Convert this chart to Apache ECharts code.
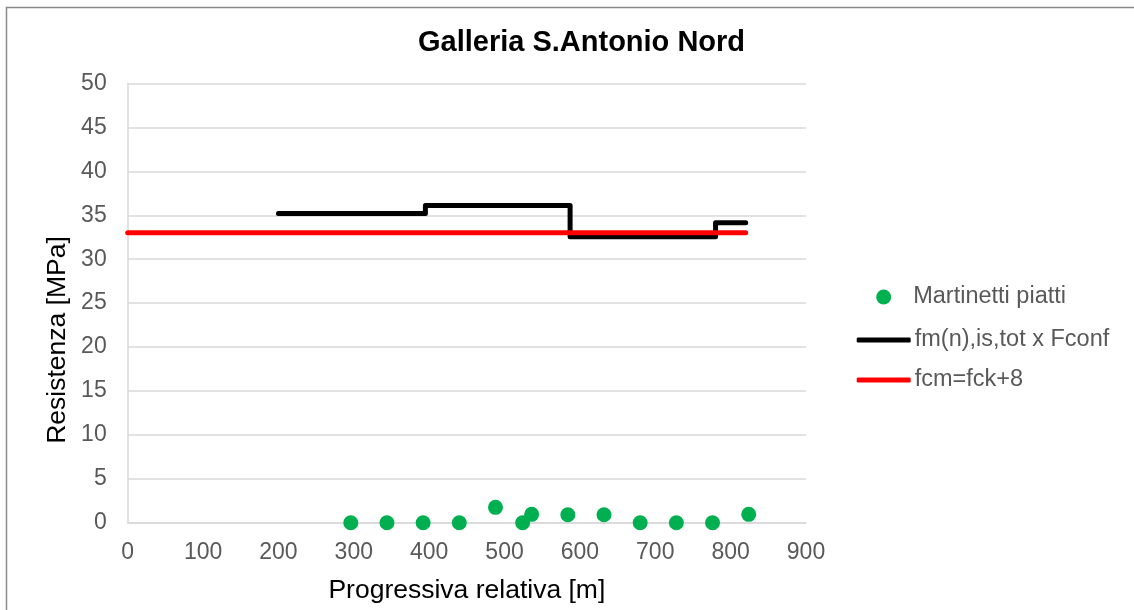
<!DOCTYPE html>
<html><head><meta charset="utf-8">
<script src="https://cdn.jsdelivr.net/npm/echarts@6/dist/echarts.min.js"></script>
<style>html,body{margin:0;padding:0;background:#fff}#c{width:1134px;height:610px}</style>
</head><body><div id="c"></div>
<script>
const titleText = 'Galleria S.Antonio Nord';
const xName = 'Progressiva relativa [m]';
const yName = 'Resistenza [MPa]';
const seriesNames = ['Martinetti piatti', 'fm(n),is,tot x Fconf', 'fcm=fck+8'];
const pointsX = [296, 344, 392, 440, 488, 524, 536, 584, 632, 680, 728, 776, 824];
const pointsY = [0, 0, 0, 0, 1.75, 0, 0.95, 0.9, 0.9, 0, 0, 0, 0.95];
const stepX = [200, 395, 587, 780, 820];
const stepY = [35.2, 36.1, 32.55, 34.15, 34.15];
const refX = [0, 820];
const refY = [33, 33];
const xAxisMax = 900, xInterval = 100;
const yAxisMax = 50, yInterval = 5;

const font = 'Liberation Sans, Arial, sans-serif';
const legendText = { fontSize: 23.5, color: '#595959', fontFamily: font };
const chart = echarts.init(document.getElementById('c'));
chart.setOption({
  animation: false,
  backgroundColor: '#fff',
  textStyle: { fontFamily: font },
  graphic: [
    { type: 'rect', shape: { x: 6.5, y: 7.5, width: 1140, height: 620 }, style: { fill: 'none', stroke: '#8a8a8a', lineWidth: 1.5 }, silent: true },
    { type: 'text', x: 581.5, y: 43, style: { text: titleText, font: 'bold 29px ' + font, fill: '#000', textAlign: 'center', textVerticalAlign: 'middle' } },
    { type: 'text', x: 58, y: 340, rotation: Math.PI / 2, style: { text: yName, font: '26.5px ' + font, fill: '#000', textAlign: 'center', textVerticalAlign: 'middle' } }
  ],
  grid: { left: 127.7, right: 328, top: 83.5, bottom: 87.3 },
  xAxis: {
    type: 'value', min: 0, max: xAxisMax, interval: xInterval,
    name: xName, nameLocation: 'middle', nameGap: 54,
    nameTextStyle: { fontSize: 26.5, color: '#000', fontFamily: font },
    axisLine: { show: true, lineStyle: { color: '#d9d9d9', width: 1.5 } },
    axisTick: { show: false },
    axisLabel: { fontSize: 23, color: '#595959', margin: 18, fontFamily: font },
    splitLine: { show: false }
  },
  yAxis: {
    type: 'value', min: 0, max: yAxisMax, interval: yInterval,
    axisLine: { show: true, lineStyle: { color: '#d9d9d9', width: 1.5 } },
    axisTick: { show: false },
    axisLabel: { fontSize: 23, color: '#595959', margin: 21, fontFamily: font },
    splitLine: { show: true, lineStyle: { color: '#d9d9d9', width: 1.5 } }
  },
  legend: [
    {
      left: 871.2, top: 280, itemWidth: 15, itemHeight: 15,
      data: [{ name: seriesNames[0], icon: 'circle' }],
      textStyle: Object.assign({ padding: [0, 0, 0, 17] }, legendText)
    },
    {
      left: 851.7, top: 323, itemWidth: 54, itemHeight: 5,
      data: [{ name: seriesNames[1], icon: 'roundRect' }],
      textStyle: Object.assign({ padding: [0, 0, 0, -1] }, legendText)
    },
    {
      left: 851.7, top: 363, itemWidth: 54, itemHeight: 5,
      data: [{ name: seriesNames[2], icon: 'roundRect' }],
      textStyle: Object.assign({ padding: [0, 0, 0, -1] }, legendText)
    }
  ],
  series: [
    {
      name: seriesNames[1], type: 'line', step: 'end', showSymbol: false, z: 3,
      data: stepX.map((x, i) => [x, stepY[i]]),
      lineStyle: { color: '#000', width: 5, cap: 'round', join: 'round' },
      itemStyle: { color: '#000' }
    },
    {
      name: seriesNames[2], type: 'line', showSymbol: false, z: 4,
      data: refX.map((x, i) => [x, refY[i]]),
      lineStyle: { color: '#ff0000', width: 5, cap: 'round' },
      itemStyle: { color: '#ff0000' }
    },
    {
      name: seriesNames[0], type: 'scatter', symbol: 'circle', symbolSize: 15, z: 5,
      data: pointsX.map((x, i) => [x, pointsY[i]]),
      itemStyle: { color: '#00b050', opacity: 1 }
    }
  ]
});
</script></body></html>
